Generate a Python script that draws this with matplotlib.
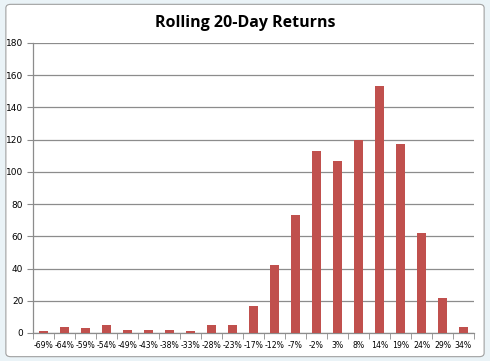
import numpy as np
import matplotlib
matplotlib.use("Agg")
import matplotlib.pyplot as plt
from matplotlib.patches import FancyBboxPatch

# data
bins = ["-69%", "-64%", "-59%", "-54%", "-49%", "-43%", "-38%", "-33%", "-28%", "-23%",
        "-17%", "-12%", "-7%", "-2%", "3%", "8%", "14%", "19%", "24%", "29%", "34%"]
counts = [1, 4, 3, 5, 2, 2, 2, 1, 5, 5, 17, 42, 73, 113, 107, 120, 153, 117, 62, 22, 4]

bar_color = "#C0504D"
grid_color = "#8C8C8C"

fig = plt.figure(figsize=(4.9, 3.61), dpi=100, facecolor="#EAF3F7")
frame = FancyBboxPatch((0.012, 0.012), 0.976, 0.976, boxstyle="round,pad=0,rounding_size=0.01",
                       transform=fig.transFigure, facecolor="white", edgecolor="#A0A0A0", lw=0.8,
                       zorder=-10)
fig.patches.append(frame)

ax = fig.add_axes([0.0673, 0.0776, 0.9, 0.8034])
ax.set_facecolor("none")
x = np.arange(len(bins))
ax.bar(x, counts, width=0.45, color=bar_color, zorder=3)

ax.set_xlim(-0.5, len(bins) - 0.5)
ax.set_ylim(0, 180)
ax.set_yticks(range(0, 181, 20))
ax.yaxis.grid(True, color=grid_color, lw=0.9, zorder=0)
ax.set_xticks(x)
ax.set_xticklabels(bins, fontsize=5.6, family="DejaVu Sans")
ax.set_xticks(np.arange(-0.5, len(bins)), minor=True)
ax.tick_params(axis="x", which="major", length=0, pad=6)
ax.tick_params(axis="x", which="minor", length=4, color=grid_color, direction="out")
ax.tick_params(axis="y", length=4, color=grid_color, labelsize=6.5, pad=3)
for s in ["top", "right"]:
    ax.spines[s].set_visible(False)
for s in ["left", "bottom"]:
    ax.spines[s].set_color(grid_color)
    ax.spines[s].set_linewidth(0.9)

fig.text(0.5, 0.935, "Rolling 20-Day Returns", ha="center", va="center",
         fontsize=11.5, fontweight="bold", family="Open Sans")

fig.savefig("out.png", dpi=100, facecolor=fig.get_facecolor())
